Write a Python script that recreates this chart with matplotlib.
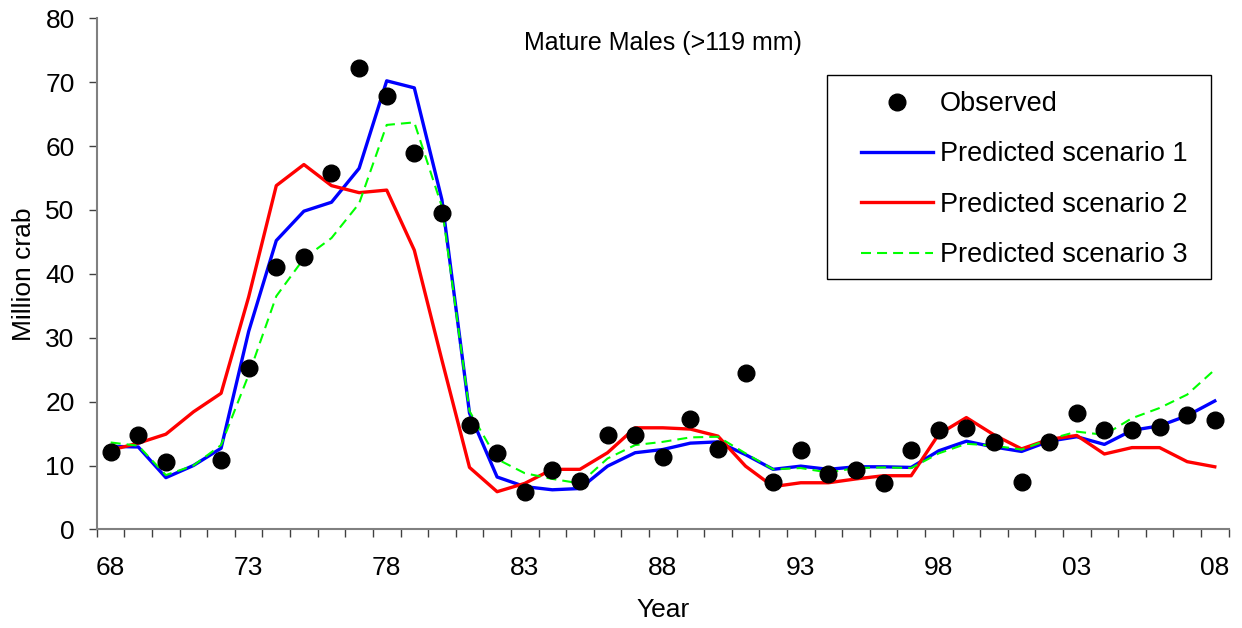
import numpy as np
import matplotlib.pyplot as plt
from matplotlib.patches import Rectangle

plt.rcParams['font.family'] = ['Liberation Sans', 'DejaVu Sans']

# survey years 1968-2008, labelled every five years
years = list(range(1968, 2009))
tick_labels = ['68', '73', '78', '83', '88', '93', '98', '03', '08']

# observed abundance (million crab); 1971 has no survey value
observed = [12.1, 14.7, 10.6, np.nan, 10.8, 25.2, 41.1, 42.7, 55.7, 72.2,
            67.9, 58.9, 49.5, 16.3, 11.9, 5.8, 9.3, 7.6, 14.7, 14.7,
            11.4, 17.3, 12.6, 24.4, 7.4, 12.4, 8.7, 9.3, 7.2, 12.4,
            15.6, 15.8, 13.7, 7.4, 13.7, 18.2, 15.6, 15.6, 16.1, 17.9,
            17.1]

scenario1 = [13.0, 12.9, 8.1, 10.0, 12.7, 31.0, 45.2, 49.8, 51.2, 56.5,
             70.2, 69.1, 51.6, 18.2, 8.2, 6.7, 6.2, 6.4, 9.9, 12.0,
             12.5, 13.5, 13.7, 11.7, 9.4, 9.9, 9.4, 9.8, 9.8, 9.7,
             12.3, 13.8, 12.9, 12.2, 13.8, 14.5, 13.3, 15.5, 16.2, 17.8,
             20.1]

scenario2 = [12.4, 13.5, 14.9, 18.4, 21.3, 36.4, 53.8, 57.1, 53.8, 52.7,
             53.1, 43.7, 26.5, 9.7, 5.9, 7.2, 9.4, 9.4, 12.0, 15.9,
             15.9, 15.7, 14.6, 9.9, 6.7, 7.3, 7.3, 7.9, 8.4, 8.4,
             14.9, 17.5, 14.8, 12.6, 14.1, 14.7, 11.8, 12.8, 12.8, 10.6,
             9.8]

scenario3 = [13.6, 13.1, 8.5, 10.0, 13.2, 24.2, 36.5, 42.4, 45.6, 51.0,
             63.3, 63.7, 50.5, 18.5, 11.0, 8.8, 7.9, 7.2, 11.1, 13.2,
             13.7, 14.4, 14.5, 11.9, 9.4, 9.6, 8.9, 9.6, 9.7, 9.6,
             11.9, 13.4, 13.1, 12.5, 14.1, 15.3, 14.8, 17.4, 19.0, 21.1,
             25.0]

x = np.arange(len(years))
W, H = 1242, 628

fig = plt.figure(figsize=(W / 100, H / 100), dpi=100)
ax = fig.add_axes([0.078, 0.157, 0.9112, 0.814])

ax.plot(x, scenario1, color='#0000ff', lw=2.4, label='Predicted scenario 1', zorder=3)
ax.plot(x, scenario2, color='#ff0000', lw=2.4, label='Predicted scenario 2', zorder=3)
ax.plot(x, scenario3, color='#00ff00', lw=1.5, dashes=(4.8, 2.9),
        label='Predicted scenario 3', zorder=3)
ax.plot(x, observed, 'o', color='black', ms=12, label='Observed', zorder=4)

ax.set_xlim(-0.5, len(years) - 0.5)
ax.set_ylim(0, 80)
ax.set_yticks(range(0, 81, 10))
ax.set_xticks(x[::5])
ax.set_xticklabels(tick_labels)
ax.set_xticks(np.arange(-0.5, len(years)), minor=True)
ax.tick_params(axis='x', which='major', length=0, pad=19, labelsize=19)
ax.tick_params(axis='x', which='minor', length=6, width=1, color='#404040')
ax.tick_params(axis='y', length=6, width=1, color='#404040', pad=10, labelsize=19)

for side in ['top', 'right']:
    ax.spines[side].set_visible(False)
for side in ['left', 'bottom']:
    ax.spines[side].set_color('#808080')
    ax.spines[side].set_linewidth(1.5)

ax.set_xlabel('Year', fontsize=19, labelpad=13)
ax.set_ylabel('Million crab', fontsize=19)
ax.yaxis.set_label_coords((36 - 97) / 1131, 0.5)
ax.text(0.5, 0.952, 'Mature Males (>119 mm)', transform=ax.transAxes,
        ha='center', va='center', fontsize=18)

# legend frame drawn separately so the inner padding can differ per side
fig.patches.append(Rectangle((827 / W, 1 - 279 / H), (1211 - 827) / W, 204 / H,
                             transform=fig.transFigure, fill=False,
                             edgecolor='black', lw=1.0))
h, l = ax.get_legend_handles_labels()
order = [3, 0, 1, 2]
fig.legend([h[i] for i in order], [l[i] for i in order],
           loc='upper left', bbox_to_anchor=(861 / W, 1 - 91 / H),
           fontsize=19.5, frameon=False, borderpad=0, labelspacing=0.9,
           handlelength=2.66, handletextpad=0.26, numpoints=1, borderaxespad=0)

plt.savefig('out.png', dpi=100)
